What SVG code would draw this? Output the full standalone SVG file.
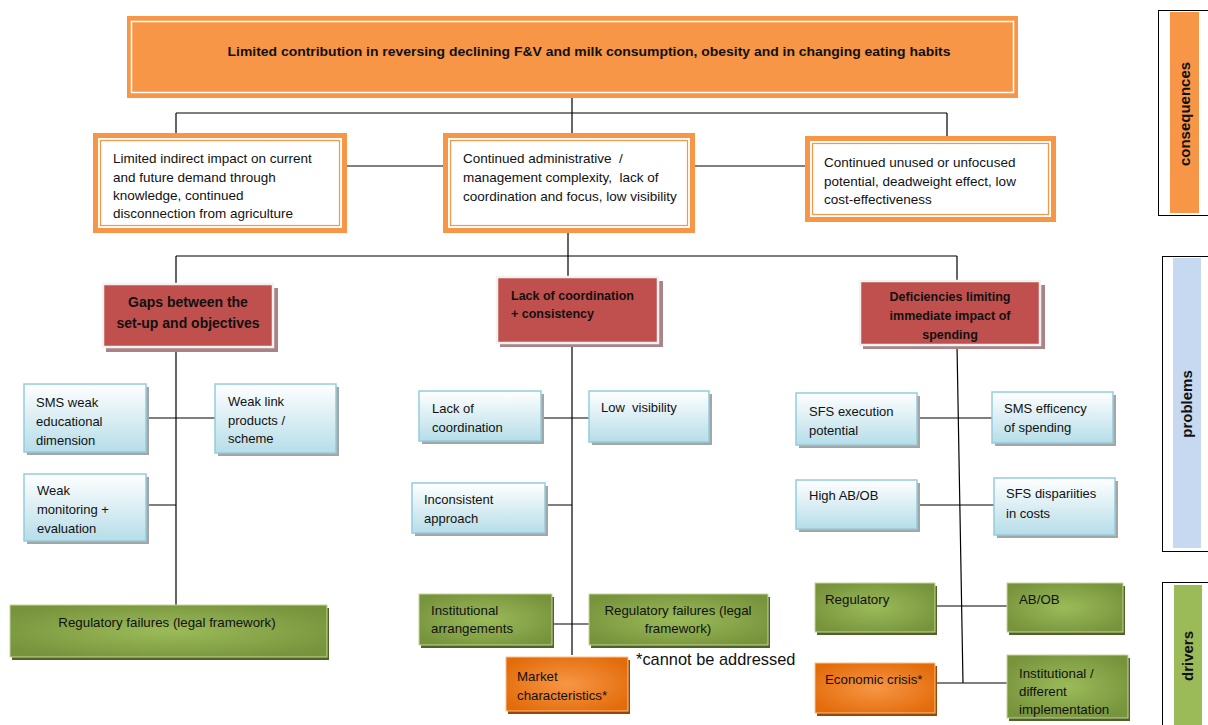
<svg xmlns="http://www.w3.org/2000/svg" width="1208" height="725" viewBox="0 0 1208 725">
<defs>
<linearGradient id="gBlue" x1="0" y1="0" x2="0" y2="1">
<stop offset="0" stop-color="#ffffff"/>
<stop offset="1" stop-color="#b6dde8"/>
</linearGradient>
<radialGradient id="gGreen" cx="0.5" cy="0.5" r="0.6">
<stop offset="0" stop-color="#9bbb59"/>
<stop offset="1" stop-color="#77933c"/>
</radialGradient>
<radialGradient id="gOrange" cx="0.5" cy="0.5" r="0.6">
<stop offset="0" stop-color="#f79646"/>
<stop offset="1" stop-color="#e36c0a"/>
</radialGradient>
<style>
text{font-family:"Liberation Sans",Arial,sans-serif;fill:#111;}
.t12{font-size:12px;}
.tm{font-size:13.5px;}
.tb{font-size:13px;}
.tg{font-size:13.3px;}
.b{font-weight:bold;}
.ln{stroke:#000;stroke-width:1.2;fill:none;}
.blue{fill:url(#gBlue);stroke:#92cddc;stroke-width:1.5;}
.bsh{fill:#a5a5a5;}
.green{fill:url(#gGreen);stroke:#c3d69b;stroke-width:1;}
.gsh{fill:#4f6228;}
.orng{fill:url(#gOrange);stroke:#fac090;stroke-width:1;}
.osh{fill:#974806;}
.red{fill:#c0504d;stroke:#f2f2f2;stroke-width:2.5;}
.rsh{fill:#a98385;}
.mid{fill:#fff;stroke:#f79646;stroke-width:5;}
.midin{fill:none;stroke:#f79646;stroke-width:1.2;}
.side{fill:#fff;stroke:#000;stroke-width:1;}
.sl{font-size:15px;font-weight:bold;}
</style>
</defs>

<g id="connectors">
<path class="ln" d="M572 98 V113 M176 113 H947 M176 113 V133 M572 113 V133 M947 113 V137"/>
<path class="ln" d="M347 166 H443 M695 166 H805"/>
<path class="ln" d="M568 233 V256 M176 256 H957 M176 256 V283 M568 256 V277 M957 256 V281"/>
<path class="ln" d="M176 348 V605 M146 418 H215 M146 505 H176"/>
<path class="ln" d="M572 343 V655 M541 418 H589 M545 505 H572 M552 624 H589"/>
<path class="ln" d="M957 345 L963 683 M917 418 H992 M917 505 H994 M935 606 H1007 M935 683 H1007"/>
</g>

<g id="top">
<rect x="127" y="16" width="891" height="82" fill="#f79646"/>
<rect x="131.5" y="21.5" width="882" height="71" fill="none" stroke="#fff" stroke-width="1.5"/>
<text x="589" y="56" text-anchor="middle" class="t12 b" textLength="723" lengthAdjust="spacingAndGlyphs">Limited contribution in reversing declining F&amp;V and milk consumption, obesity and in changing eating habits</text>
</g>

<g id="cons1">
<rect class="mid" x="95.5" y="135.5" width="249" height="95"/>
<rect class="midin" x="100.5" y="140.5" width="239" height="85"/>
<text class="tm"><tspan x="113" y="163">Limited indirect impact on current</tspan><tspan x="113" y="182">and future demand through</tspan><tspan x="113" y="200">knowledge, continued</tspan><tspan x="113" y="218">disconnection from agriculture</tspan></text>
</g>
<g id="cons2">
<rect class="mid" x="445.5" y="135.5" width="247" height="95"/>
<rect class="midin" x="450.5" y="140.5" width="237" height="85"/>
<text class="tm" xml:space="preserve"><tspan x="463" y="163">Continued administrative  /</tspan><tspan x="463" y="182">management complexity,  lack of</tspan><tspan x="463" y="201">coordination and focus, low visibility</tspan></text>
</g>
<g id="cons3">
<rect class="mid" x="807.5" y="138.5" width="246" height="81"/>
<rect class="midin" x="812.5" y="143.5" width="236" height="71"/>
<text class="tm"><tspan x="824" y="167">Continued unused or unfocused</tspan><tspan x="824" y="186">potential, deadweight effect, low</tspan><tspan x="824" y="204">cost-effectiveness</tspan></text>
</g>

<g id="prob1">
<rect class="rsh" x="106" y="288" width="172" height="64"/>
<rect class="red" x="103" y="284" width="170" height="63"/>
<text class="b" font-size="14" text-anchor="middle"><tspan x="188" y="307">Gaps between the</tspan><tspan x="188" y="328">set-up and objectives</tspan></text>
</g>
<g id="prob2">
<rect class="rsh" x="500" y="281" width="163" height="66"/>
<rect class="red" x="497" y="277" width="161" height="66"/>
<text class="b" font-size="12.5"><tspan x="511" y="300">Lack of coordination</tspan><tspan x="511" y="318">+ consistency</tspan></text>
</g>
<g id="prob3">
<rect class="rsh" x="863" y="285" width="182" height="64"/>
<rect class="red" x="860" y="281" width="180" height="64"/>
<text class="b" font-size="12.5" text-anchor="middle"><tspan x="950" y="301">Deficiencies limiting</tspan><tspan x="950" y="320">immediate impact of</tspan><tspan x="950" y="339">spending</tspan></text>
</g>

<g id="b1">
<rect class="bsh" x="27" y="387" width="122" height="68"/>
<rect class="blue" x="24" y="384" width="122" height="68"/>
<text class="tb"><tspan x="36" y="407">SMS weak</tspan><tspan x="36" y="426">educational</tspan><tspan x="36" y="445">dimension</tspan></text>
</g>
<g id="b2">
<rect class="bsh" x="218" y="387" width="121" height="69"/>
<rect class="blue" x="215" y="384" width="121" height="69"/>
<text class="tb"><tspan x="228" y="406">Weak link</tspan><tspan x="228" y="425">products /</tspan><tspan x="228" y="443">scheme</tspan></text>
</g>
<g id="b3">
<rect class="bsh" x="27" y="477" width="122" height="67"/>
<rect class="blue" x="24" y="474" width="122" height="67"/>
<text class="tb"><tspan x="37" y="495">Weak</tspan><tspan x="37" y="514">monitoring +</tspan><tspan x="37" y="533">evaluation</tspan></text>
</g>
<g id="b4">
<rect class="bsh" x="422" y="394" width="122" height="50"/>
<rect class="blue" x="419" y="391" width="122" height="50"/>
<text class="tb"><tspan x="432" y="413">Lack of</tspan><tspan x="432" y="432">coordination</tspan></text>
</g>
<g id="b5">
<rect class="bsh" x="592" y="394" width="120" height="51"/>
<rect class="blue" x="589" y="391" width="120" height="51"/>
<text class="tb" xml:space="preserve"><tspan x="601" y="412">Low  visibility</tspan></text>
</g>
<g id="b6">
<rect class="bsh" x="415" y="486" width="133" height="50"/>
<rect class="blue" x="412" y="483" width="133" height="50"/>
<text class="tb"><tspan x="424" y="504">Inconsistent</tspan><tspan x="424" y="523">approach</tspan></text>
</g>
<g id="b7">
<rect class="bsh" x="799" y="396" width="121" height="52"/>
<rect class="blue" x="796" y="393" width="121" height="52"/>
<text class="tb"><tspan x="809" y="416">SFS execution</tspan><tspan x="809" y="435">potential</tspan></text>
</g>
<g id="b8">
<rect class="bsh" x="995" y="395" width="121" height="51"/>
<rect class="blue" x="992" y="392" width="121" height="51"/>
<text class="tb"><tspan x="1004" y="413">SMS efficency</tspan><tspan x="1004" y="432">of spending</tspan></text>
</g>
<g id="b9">
<rect class="bsh" x="799" y="483" width="121" height="49"/>
<rect class="blue" x="796" y="480" width="121" height="49"/>
<text class="tb"><tspan x="809" y="500">High AB/OB</tspan></text>
</g>
<g id="b10">
<rect class="bsh" x="997" y="481" width="121" height="57"/>
<rect class="blue" x="994" y="478" width="121" height="57"/>
<text class="tb"><tspan x="1006" y="498">SFS dispariities</tspan><tspan x="1006" y="518">in costs</tspan></text>
</g>

<g id="d1">
<rect class="gsh" x="12" y="608" width="317" height="52"/>
<rect class="green" x="10" y="605" width="317" height="52"/>
<text class="tg" x="167" y="627" text-anchor="middle">Regulatory failures (legal framework)</text>
</g>
<g id="d2">
<rect class="gsh" x="421" y="597" width="133" height="51"/>
<rect class="green" x="419" y="594" width="133" height="51"/>
<text class="tg"><tspan x="431" y="615">Institutional</tspan><tspan x="431" y="633">arrangements</tspan></text>
</g>
<g id="d3">
<rect class="gsh" x="591" y="597" width="179" height="51"/>
<rect class="green" x="589" y="594" width="179" height="51"/>
<text class="tg" text-anchor="middle"><tspan x="678" y="615">Regulatory failures (legal</tspan><tspan x="678" y="633">framework)</tspan></text>
</g>
<g id="d4">
<rect class="osh" x="508" y="660" width="122" height="54"/>
<rect class="orng" x="506" y="657" width="122" height="54"/>
<text class="tg"><tspan x="517" y="681">Market</tspan><tspan x="517" y="700">characteristics*</tspan></text>
</g>
<text x="636" y="665" font-size="16.4">*cannot be addressed</text>
<g id="d5">
<rect class="gsh" x="817" y="586" width="120" height="49"/>
<rect class="green" x="815" y="583" width="120" height="49"/>
<text class="tg" x="825" y="604">Regulatory</text>
</g>
<g id="d6">
<rect class="gsh" x="1009" y="586" width="116" height="49"/>
<rect class="green" x="1007" y="583" width="116" height="49"/>
<text class="tg" x="1019" y="604">AB/OB</text>
</g>
<g id="d7">
<rect class="osh" x="817" y="666" width="120" height="50"/>
<rect class="orng" x="815" y="663" width="120" height="50"/>
<text class="tg" x="825" y="684">Economic crisis*</text>
</g>
<g id="d8">
<rect class="gsh" x="1009" y="658" width="121" height="63"/>
<rect class="green" x="1007" y="655" width="121" height="63"/>
<text class="tg"><tspan x="1019" y="678">Institutional /</tspan><tspan x="1019" y="696">different</tspan><tspan x="1019" y="714">implementation</tspan></text>
</g>

<g id="legend-consequences">
<rect class="side" x="1158.5" y="10.5" width="60" height="205"/>
<rect x="1170" y="12" width="29" height="201" fill="#f79646"/>
<text class="sl" text-anchor="middle" transform="translate(1190 114) rotate(-90)">consequences</text>
</g>
<g id="legend-problems">
<rect class="side" x="1162.5" y="256.5" width="60" height="295"/>
<rect x="1173" y="258" width="28" height="290" fill="#c6d9f1"/>
<text class="sl" text-anchor="middle" transform="translate(1192 404) rotate(-90)">problems</text>
</g>
<g id="legend-drivers">
<rect class="side" x="1162.5" y="582.5" width="60" height="160"/>
<rect x="1174" y="585" width="28" height="140" fill="#9bbb59"/>
<text class="sl" text-anchor="middle" transform="translate(1193 656) rotate(-90)">drivers</text>
</g>
</svg>
